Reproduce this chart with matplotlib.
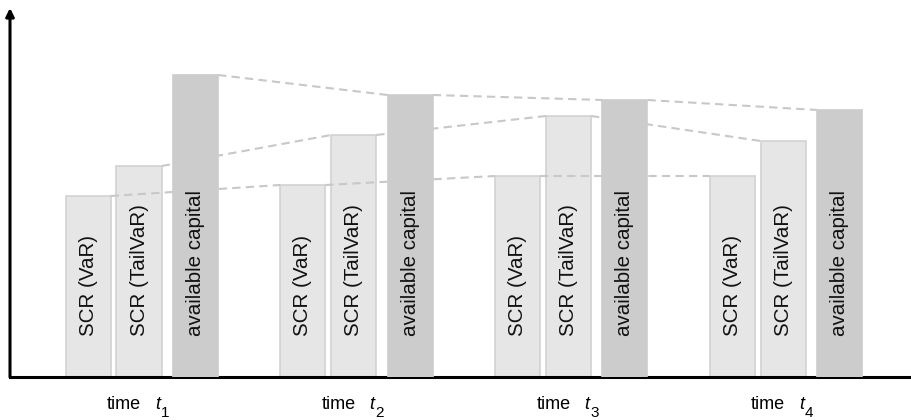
import numpy as np
import matplotlib
matplotlib.use("Agg")
import matplotlib.pyplot as plt

plt.rcParams["font.family"] = ["Liberation Sans", "DejaVu Sans"]

# values (arbitrary units)
periods = ["1", "2", "3", "4"]
series = ["SCR (VaR)", "SCR (TailVaR)", "available capital"]
scr_var = [181, 192, 201, 201]
scr_tailvar = [211, 242, 261, 236]
available = [302, 282, 277, 267]

values = [scr_var, scr_tailvar, available]
offsets = [-0.2375, 0.0, 0.263]
width = 0.21
fills = ["#e6e6e6", "#e6e6e6", "#cccccc"]
edges = ["#d2d2d2", "#d2d2d2", "#cccccc"]
zorders = [2, 2, 4]

fig = plt.figure(figsize=(9.12, 4.2), dpi=100)
ax = fig.add_axes([10 / 912, 43 / 420, 902 / 912, 369 / 420])

x = np.arange(len(periods))
for vals, off, fc, ec, z, name in zip(values, offsets, fills, edges, zorders, series):
    ax.bar(x + off, vals, width=width, color=fc, edgecolor=ec, linewidth=1.2, zorder=z)
    for xi in x:
        ax.text(xi + off, 41, name, rotation=90, ha="center", va="bottom",
                fontsize=14.8, color="#111111", zorder=5)
    # dashed links between the same bar in neighbouring periods
    for i in range(len(x) - 1):
        ax.plot([x[i] + off + width / 2, x[i + 1] + off - width / 2],
                [vals[i], vals[i + 1]], color="#c8c8c8", lw=1.5,
                dashes=(4, 2.5), zorder=3)

# period labels: "time t" with a large subscript
lab = dict(xycoords=("data", "axes fraction"), textcoords="offset points",
           va="baseline", annotation_clip=False)
for xi, p in zip(x, periods):
    ax.annotate("time", xy=(xi, 0), xytext=(1.5, -23.3), ha="right",
                fontsize=13, **lab)
    ax.annotate("t", xy=(xi, 0), xytext=(11.3, -23.3), ha="left",
                fontsize=13, style="italic", **lab)
    ax.annotate(p, xy=(xi, 0), xytext=(18.6, -28.8), ha="center",
                fontsize=11, **lab)

ax.set_xlim(-0.601, 3.6)
ax.set_ylim(0, 369)
ax.set_xticks([])
ax.set_yticks([])

for s in ["top", "right", "left"]:
    ax.spines[s].set_visible(False)
ax.spines["bottom"].set_linewidth(2.2)
ax.annotate("", xy=(0, 1.0), xytext=(0, 0), xycoords="axes fraction",
            arrowprops=dict(arrowstyle="-|>", lw=2.2, color="black",
                            mutation_scale=12, shrinkA=0, shrinkB=0))

fig.savefig("out.png", dpi=100)
